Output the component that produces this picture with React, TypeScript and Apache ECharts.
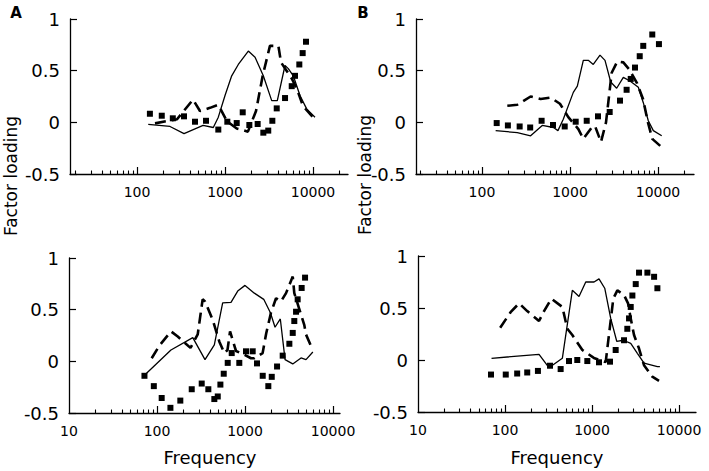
import React, { useEffect, useRef } from "react";
import * as echarts from "echarts";

// ---- data: [frequency, factor loading] ----
const TL_SOLID = [[134,-0.02],[237,-0.04],[342,-0.11],[563,-0.03],[736,-0.05],[839,0.05],[1000,0.26],[1191,0.45],[1416,0.56],[1840,0.69],[2195,0.63],[2724,0.45],[3393,0.21],[3930,0.21],[4805,0.55],[5240,0.52],[5970,0.45],[7110,0.26],[8470,0.13],[10540,0.05]];
const TL_DASH = [[160,-0.01],[285,0.03],[433,0.22],[519,0.11],[675,0.14],[839,0.17],[1054,0.01],[1359,-0.06],[1820,-0.09],[2250,0.11],[2680,0.45],[3240,0.74],[4040,0.74],[4330,0.58],[5010,0.5],[5770,0.42],[6580,0.32],[7690,0.16],[10000,0.05]];
const TL_SQUARES = [[140,0.083],[191,0.064],[255,0.039],[342,0.058],[456,0.006],[608,0.015],[839,-0.07],[1062,0.006],[1358,-0.007],[1589,0.097],[1890,-0.026],[2350,-0.016],[2725,-0.1],[3100,-0.08],[3450,0.015],[3870,0.135],[4810,0.235],[5730,0.35],[6240,0.45],[6990,0.56],[7630,0.67],[8320,0.78]];

const TR_SOLID = [[143,-0.08],[252,-0.1],[357,-0.13],[484,-0.03],[650,-0.05],[730,-0.08],[839,0.03],[1091,0.29],[1212,0.35],[1417,0.6],[1614,0.6],[1840,0.56],[2193,0.65],[2500,0.6],[2903,0.39],[3392,0.33],[4036,0.435],[4808,0.4],[5977,0.34],[6808,0.19],[7760,0.015],[8850,-0.08],[11020,-0.13]];
const TR_DASH = [[194,0.16],[252,0.17],[357,0.25],[464,0.225],[602,0.24],[769,0.18],[957,0.05],[1245,-0.065],[1417,-0.16],[1766,-0.05],[1924,-0.035],[2250,-0.19],[2566,0.0],[2979,0.48],[3450,0.59],[4036,0.58],[4680,0.515],[5770,0.38],[6760,0.225],[7690,0.0],[8610,-0.16],[11000,-0.24]];
const TR_SQUARES = [[147,-0.007],[197,-0.03],[268,-0.04],[353,-0.05],[476,0.015],[641,-0.026],[871,-0.04],[1161,0.006],[1549,0.015],[2080,0.058],[2825,0.1],[3700,0.21],[4400,0.315],[4900,0.42],[5480,0.53],[6200,0.64],[6800,0.74],[8610,0.85],[10250,0.757]];

const BL_SOLID = [[73,-0.13],[144,0.11],[255,0.23],[351,0.016],[448,0.16],[557,0.565],[693,0.57],[826,0.68],[1000,0.735],[1276,0.66],[1632,0.6],[1943,0.47],[2193,0.33],[2518,0.41],[2850,0.016],[3486,-0.025],[4328,0.033],[4930,0.016],[5900,0.09]];
const BL_DASH = [[87,0.03],[106,0.15],[144,0.29],[172,0.24],[240,0.13],[290,0.26],[330,0.6],[351,0.58],[430,0.4],[511,0.19],[582,0.08],[632,0.11],[676,0.29],[790,0.1],[980,0.065],[1170,0.03],[1276,0.03],[1585,0.08],[1740,0.27],[1970,0.47],[2250,0.61],[2566,0.58],[2925,0.66],[3486,0.82],[3630,0.66],[4720,0.35],[4930,0.26],[5880,0.11]];
const BL_SQUARES = [[72,-0.14],[92,-0.24],[113,-0.355],[142,-0.45],[184,-0.38],[248,-0.27],[322,-0.215],[383,-0.27],[448,-0.365],[490,-0.34],[525,-0.225],[573,-0.12],[636,-0.015],[706,0.08],[861,-0.015],[1026,0.097],[1222,0.097],[1368,-0.02],[1589,-0.14],[1840,-0.24],[2012,-0.15],[2312,-0.05],[2680,0.055],[3190,0.17],[3485,0.275],[3630,0.39],[3800,0.48],[3965,0.6],[4400,0.71],[4810,0.81]];

const BR_SOLID = [[70,0.016],[246,0.055],[320,-0.074],[456,0.016],[594,0.67],[709,0.61],[847,0.75],[1055,0.75],[1203,0.78],[1400,0.69],[1640,0.4],[1923,0.18],[2290,0.19],[2786,0.16],[3320,0.064],[3960,-0.03],[5640,-0.064],[6030,-0.064]];
const BR_DASH = [[88,0.31],[116,0.46],[145,0.545],[180,0.47],[246,0.375],[281,0.47],[341,0.59],[456,0.51],[520,0.3],[594,0.24],[774,0.096],[1050,0.02],[1436,-0.02],[1757,0.59],[1955,0.67],[2333,0.625],[2595,0.545],[2786,0.4],[3040,0.24],[3470,0.11],[3960,-0.05],[4930,-0.16],[5890,-0.2]];
const BR_SQUARES = [[69,-0.14],[102,-0.14],[138,-0.13],[180,-0.12],[239,-0.105],[329,-0.055],[436,-0.087],[544,-0.01],[677,0.0],[883,-0.01],[1203,-0.022],[1610,-0.016],[1870,0.096],[2333,0.19],[2545,0.3],[2663,0.4],[2785,0.51],[2910,0.62],[3180,0.73],[3470,0.84],[4330,0.84],[5170,0.8],[5640,0.69]];

// ---- ticks / labels ----
const MINOR_TOP = [20,30,40,50,60,70,80,90,200,300,400,500,600,700,800,900,2000,3000,4000,5000,6000,7000,8000,9000,20000];
const MINOR_BOTTOM = [20,30,40,50,60,70,80,90,200,300,400,500,600,700,800,900,2000,3000,4000,5000,6000,7000,8000,9000];
const MAJOR_TICKS = [100,1000,10000];
const LABELS_TOP = [100,1000,10000];
const LABELS_BOTTOM = [10,100,1000,10000];

const FONT = '"DejaVu Sans", sans-serif';
const BLACK = "#000";

function makeXAxes(gridIndex: number, min: number, max: number, labels: number[], minor: number[]) {
  return [
    {
      type: "log", logBase: 10, gridIndex, min, max, position: "bottom",
      axisLine: { show: true, onZero: false, lineStyle: { color: BLACK, width: 1.3 } },
      axisTick: { show: true, inside: true, length: 7, customValues: MAJOR_TICKS, lineStyle: { color: BLACK, width: 1.2 } },
      axisLabel: { show: true, customValues: labels, margin: 11, color: BLACK, fontSize: 14, fontFamily: FONT,
        formatter: (v: number) => String(Math.round(v)) },
      splitLine: { show: false },
    },
    {
      type: "log", logBase: 10, gridIndex, min, max, position: "bottom",
      axisLine: { show: false, onZero: false },
      axisTick: { show: true, inside: true, length: 3.5, customValues: minor, lineStyle: { color: BLACK, width: 1.1 } },
      axisLabel: { show: false },
      splitLine: { show: false },
    },
  ];
}

function makeYAxis(gridIndex: number) {
  return {
    type: "value", gridIndex, min: -0.5, max: 1, interval: 0.5,
    axisLine: { show: true, onZero: false, lineStyle: { color: BLACK, width: 1.3 } },
    axisTick: { show: true, inside: true, length: 7, lineStyle: { color: BLACK, width: 1.2 } },
    axisLabel: { margin: 10, color: BLACK, fontSize: 18, fontFamily: FONT },
    splitLine: { show: false },
  };
}

function makeSeries(i: number, solid: number[][], dash: number[][], squares: number[][]) {
  const xAxisIndex = i * 2;
  const yAxisIndex = i;
  return [
    { type: "line", xAxisIndex, yAxisIndex, data: solid, showSymbol: false, symbol: "none",
      lineStyle: { color: BLACK, width: 1.3 } },
    { type: "line", xAxisIndex, yAxisIndex, data: dash, showSymbol: false, symbol: "none",
      lineStyle: { color: BLACK, width: 2.6, type: [11, 6], cap: "butt" } },
    { type: "scatter", xAxisIndex, yAxisIndex, data: squares, symbol: "rect", symbolSize: 6,
      itemStyle: { color: BLACK, opacity: 1 } },
  ];
}

export default function App() {
  const ref = useRef<HTMLDivElement>(null);
  useEffect(() => {
    if (!ref.current) return;
    const chart = echarts.init(ref.current, null, { renderer: "svg" });
    const textStyle = (text: string, size: number, weight = "normal") => ({
      text, fontSize: size, fontWeight: weight, fontFamily: FONT, fill: BLACK, align: "center", verticalAlign: "middle",
    });
    chart.setOption({
      animation: false,
      backgroundColor: "#fff",
      grid: [
        { left: 70, top: 19, width: 278, height: 155, containLabel: false },
        { left: 416, top: 19, width: 278, height: 155, containLabel: false },
        { left: 69, top: 258, width: 271, height: 155, containLabel: false },
        { left: 418, top: 256, width: 278, height: 156, containLabel: false },
      ],
      xAxis: [
        ...makeXAxes(0, 17.3, 24990, LABELS_TOP, MINOR_TOP),
        ...makeXAxes(1, 17.8, 25650, LABELS_TOP, MINOR_TOP),
        ...makeXAxes(2, 10, 12000, LABELS_BOTTOM, MINOR_BOTTOM),
        ...makeXAxes(3, 10, 15670, LABELS_BOTTOM, MINOR_BOTTOM),
      ],
      yAxis: [makeYAxis(0), makeYAxis(1), makeYAxis(2), makeYAxis(3)],
      series: [
        ...makeSeries(0, TL_SOLID, TL_DASH, TL_SQUARES),
        ...makeSeries(1, TR_SOLID, TR_DASH, TR_SQUARES),
        ...makeSeries(2, BL_SOLID, BL_DASH, BL_SQUARES),
        ...makeSeries(3, BR_SOLID, BR_DASH, BR_SQUARES),
      ],
      graphic: [
        { type: "text", x: 16, y: 13, style: textStyle("A", 15, "bold") },
        { type: "text", x: 363, y: 13, style: textStyle("B", 15, "bold") },
        { type: "text", x: 11, y: 176, rotation: Math.PI / 2, style: textStyle("Factor loading", 17) },
        { type: "text", x: 365, y: 175, rotation: Math.PI / 2, style: textStyle("Factor loading", 17) },
        { type: "text", x: 210, y: 457, style: textStyle("Frequency", 18) },
        { type: "text", x: 557, y: 457, style: textStyle("Frequency", 18) },
      ],
    });
    return () => chart.dispose();
  }, []);
  return (
    <div
      ref={ref}
      style={{ position: "fixed", left: 0, top: 0, width: 709, height: 471, background: "#fff" }}
    />
  );
}
